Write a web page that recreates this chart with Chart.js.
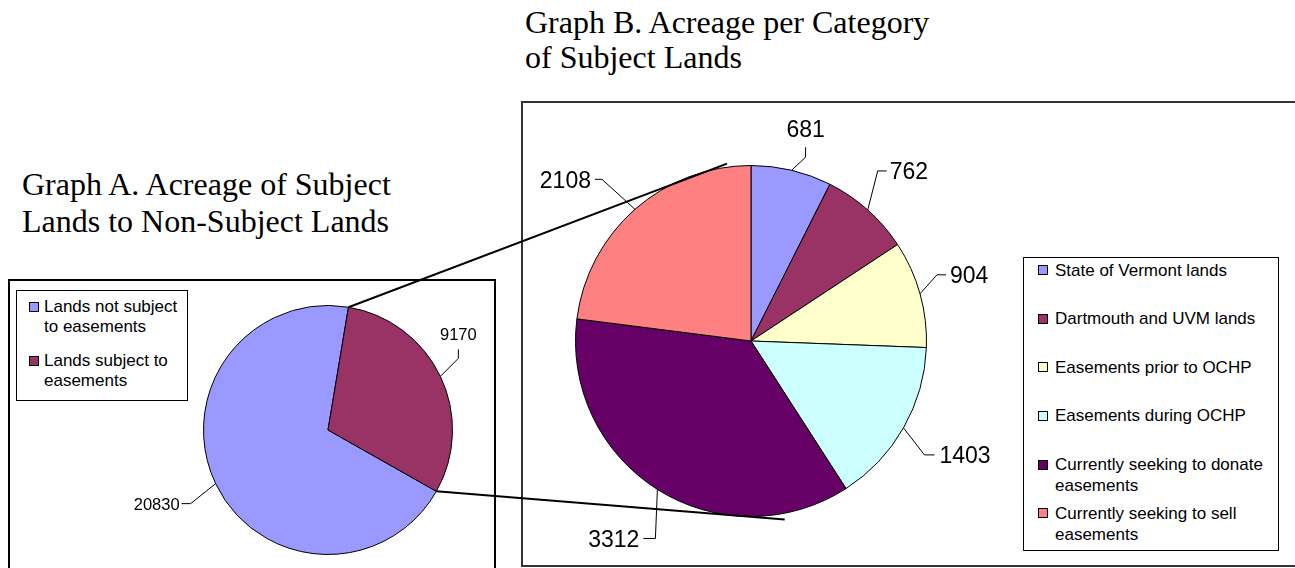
<!DOCTYPE html>
<html>
<head>
<meta charset="utf-8">
<script src="https://cdn.jsdelivr.net/npm/chart.js@4.4.1/dist/chart.umd.min.js"></script>
<style>
  body { margin:0; width:1295px; height:568px; overflow:hidden; background:#fff; position:relative;
         font-family:"Liberation Sans", Arial, sans-serif; color:#000; }
  .title { position:absolute; font-family:"Liberation Serif","Times New Roman",serif; font-size:32px; white-space:nowrap; }
  .box { position:absolute; box-sizing:border-box; }
  .legend { position:absolute; box-sizing:border-box; border:1px solid #000; background:#fff; font-size:17px; }
  .legend .item { position:absolute; white-space:nowrap; }
  .legend .sw { position:absolute; width:10px; height:10px; box-sizing:border-box; border:1px solid #000; }
  canvas { position:absolute; }
</style>
</head>
<body>

<div class="title" style="left:22px; top:166px; line-height:37px;">Graph A. Acreage of Subject<br>Lands to Non-Subject Lands</div>
<div class="title" style="left:525px; top:5px; line-height:35px;">Graph B. Acreage per Category<br>of Subject Lands</div>

<div class="box" style="left:8px; top:279px; width:488px; height:320px; border:2px solid #000;"></div>
<div class="box" style="left:521px; top:101px; width:800px; height:466px; border:2px solid #333;"></div>

<canvas id="chartA" width="485" height="286" style="left:10px; top:282px;"></canvas>
<canvas id="chartB" width="772" height="460" style="left:523px; top:104px;"></canvas>
<canvas id="links" width="1295" height="568" style="left:0; top:0; pointer-events:none;"></canvas>

<div id="legendA" class="legend" style="left:16px; top:290px; width:172px; height:111px;"></div>
<div id="legendB" class="legend" style="left:1023px; top:257px; width:256px; height:294px;"></div>

<script>
// Graph A : terres sujettes / non sujettes
const labelsA = [['Lands not subject', 'to easements'], ['Lands subject to', 'easements']];
const valuesA = [20830, 9170];
const colorsA = ['#9999FF', '#993366'];

// Graph B : superficie par catégorie
const labelsB = [
  ['State of Vermont lands'],
  ['Dartmouth and UVM lands'],
  ['Easements prior to OCHP'],
  ['Easements during OCHP'],
  ['Currently seeking to donate', 'easements'],
  ['Currently seeking to sell', 'easements']
];
const valuesB = [681, 762, 904, 1403, 3312, 2108];
const colorsB = ['#9999FF', '#993366', '#FFFFCC', '#CCFFFF', '#660066', '#FF8080'];

// position des étiquettes (décalages depuis le bord de la part)
const placeA = [
  { elbow:[-25, 20], end:[-34, 20], side:'left', gap:2 },
  { elbow:[18, -18], end:[18, -27], side:'above', gap:9 }
];
const placeB = [
  { elbow:[14, -13], end:[14, -23], side:'above', gap:10 },
  { elbow:[10, -39], end:[19, -39], side:'right', gap:3 },
  { elbow:[17, -19], end:[26, -19], side:'right', gap:4 },
  { elbow:[21, 27], end:[31, 27], side:'right', gap:5 },
  { elbow:[-2, 49], end:[-14, 49], side:'left', gap:4 },
  { elbow:[-33, -30], end:[-40, -30], side:'left', gap:4 }
];

const leaderLabels = {
  id: 'leaderLabels',
  afterDatasetsDraw(chart, args, opts) {
    const ctx = chart.ctx;
    const meta = chart.getDatasetMeta(0);
    const values = chart.data.datasets[0].data;
    ctx.save();
    ctx.font = opts.size + 'px "Liberation Sans", Arial, sans-serif';
    ctx.fillStyle = '#000';
    ctx.strokeStyle = '#000';
    ctx.lineWidth = 1;
    meta.data.forEach((arc, i) => {
      const p = arc.getProps(['x', 'y', 'startAngle', 'endAngle', 'outerRadius'], true);
      const mid = (p.startAngle + p.endAngle) / 2;
      const ex = p.x + Math.cos(mid) * p.outerRadius;
      const ey = p.y + Math.sin(mid) * p.outerRadius;
      const pl = opts.placement[i];
      const bx = ex + pl.elbow[0], by = ey + pl.elbow[1];
      const tx = ex + pl.end[0], ty = ey + pl.end[1];
      ctx.beginPath();
      ctx.moveTo(ex, ey);
      ctx.lineTo(bx, by);
      ctx.lineTo(tx, ty);
      ctx.stroke();
      const txt = String(values[i]);
      ctx.textBaseline = 'alphabetic';
      const half = opts.size * 0.36;
      if (pl.side === 'above') {
        ctx.textAlign = 'center';
        ctx.fillText(txt, tx, ty - pl.gap);
      } else if (pl.side === 'left') {
        ctx.textAlign = 'right';
        ctx.fillText(txt, tx - pl.gap, ty + half);
      } else {
        ctx.textAlign = 'left';
        ctx.fillText(txt, tx + pl.gap, ty + half);
      }
    });
    ctx.restore();
  }
};

function pieOptions(rotation, padding, size, placement) {
  return {
    responsive: false,
    animation: false,
    rotation: rotation,
    layout: { padding: padding },
    plugins: {
      legend: { display: false },
      tooltip: { enabled: false },
      leaderLabels: { size: size, placement: placement }
    }
  };
}

const chartA = new Chart(document.getElementById('chartA'), {
  type: 'pie',
  data: {
    labels: labelsA,
    datasets: [{ data: valuesA, backgroundColor: colorsA, borderColor: '#000', borderWidth: 1, hoverOffset: 0 }]
  },
  options: pieOptions(119.5, { left: 193, right: 42, top: 23, bottom: 13 }, 16.5, placeA),
  plugins: [leaderLabels]
});

const chartB = new Chart(document.getElementById('chartB'), {
  type: 'pie',
  data: {
    labels: labelsB,
    datasets: [{ data: valuesB, backgroundColor: colorsB, borderColor: '#000', borderWidth: 1, hoverOffset: 0 }]
  },
  options: pieOptions(0, { left: 52, right: 368, top: 61, bottom: 47 }, 23, placeB),
  plugins: [leaderLabels]
});

// légendes HTML
function buildLegend(el, chart, cfg) {
  const labels = chart.data.labels;
  const colors = chart.data.datasets[0].backgroundColor;
  labels.forEach((lines, i) => {
    const item = document.createElement('div');
    item.className = 'item';
    item.style.left = cfg.textLeft + 'px';
    item.style.top = (cfg.firstTop + cfg.tops[i]) + 'px';
    item.style.lineHeight = cfg.lineHeight + 'px';
    item.innerHTML = lines.join('<br>');
    const sw = document.createElement('div');
    sw.className = 'sw';
    sw.style.background = colors[i];
    sw.style.left = cfg.swLeft + 'px';
    sw.style.top = (cfg.firstTop + cfg.tops[i] + cfg.lineHeight / 2 - 5) + 'px';
    el.appendChild(sw);
    el.appendChild(item);
  });
}
buildLegend(document.getElementById('legendA'), chartA,
  { textLeft: 27, swLeft: 12, lineHeight: 20, firstTop: 6, tops: [0, 54] });
buildLegend(document.getElementById('legendB'), chartB,
  { textLeft: 31, swLeft: 14, lineHeight: 21.5, firstTop: 1.5, tops: [0, 48.6, 97.2, 145.8, 194.4, 243] });

// lignes de liaison entre A et B
function drawLinks() {
  const ctx = document.getElementById('links').getContext('2d');
  const ra = chartA.canvas.getBoundingClientRect();
  const rb = chartB.canvas.getBoundingClientRect();
  const a = chartA.getDatasetMeta(0).data[1].getProps(['x', 'y', 'startAngle', 'endAngle', 'outerRadius'], true);
  const b = chartB.getDatasetMeta(0).data[0].getProps(['x', 'y', 'outerRadius'], true);
  const targets = [{ deg: -7.7, k: 1.02 }, { deg: 169.3, k: 1.035 }];
  const angles = [a.startAngle, a.endAngle];
  ctx.strokeStyle = '#000';
  ctx.lineWidth = 2;
  angles.forEach((ang, i) => {
    const x1 = ra.left + a.x + Math.cos(ang) * a.outerRadius;
    const y1 = ra.top + a.y + Math.sin(ang) * a.outerRadius;
    const t = targets[i].deg * Math.PI / 180 - Math.PI / 2;
    const x2 = rb.left + b.x + Math.cos(t) * b.outerRadius * targets[i].k;
    const y2 = rb.top + b.y + Math.sin(t) * b.outerRadius * targets[i].k;
    ctx.beginPath();
    ctx.moveTo(x1, y1);
    ctx.lineTo(x2, y2);
    ctx.stroke();
  });
}
drawLinks();
</script>
</body>
</html>
